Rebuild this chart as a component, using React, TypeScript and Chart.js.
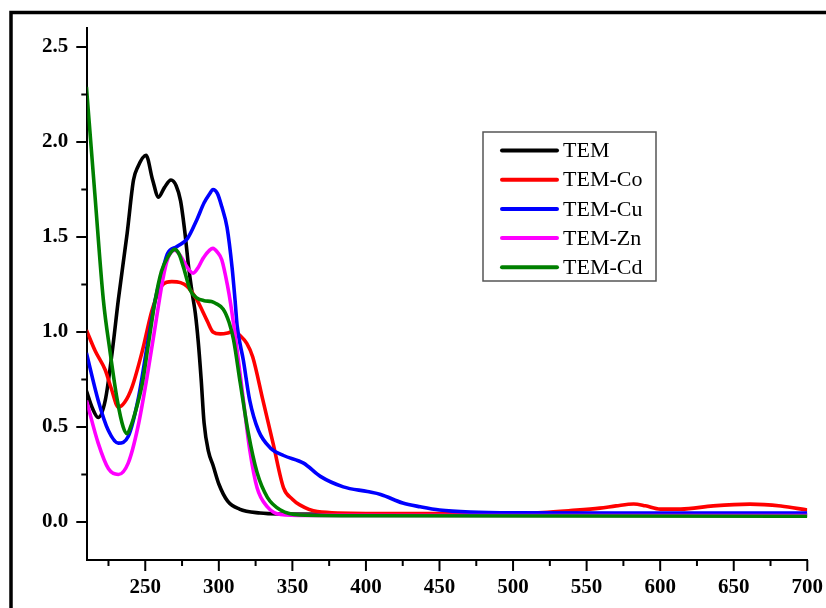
import React, { useEffect, useRef } from "react";
import { Chart, registerables } from "chart.js";

Chart.register(...registerables);

// ---- data (wavelength nm / absorbance) ----
const wlTEM = [210, 214, 218, 222.8, 227.6, 231.7, 237.7, 242, 245, 250.5, 255, 259, 263, 267.5, 271, 274, 277, 279.5, 282, 284, 286, 288, 290, 293, 296, 300, 306, 314, 328, 342, 400, 500, 600, 700];
const absTEM = [0.69, 0.6, 0.55, 0.64, 0.9, 1.17, 1.52, 1.8, 1.87, 1.93, 1.8, 1.71, 1.76, 1.8, 1.77, 1.69, 1.52, 1.34, 1.2, 1.1, 0.95, 0.75, 0.52, 0.37, 0.3, 0.2, 0.11, 0.068, 0.047, 0.042, 0.04, 0.038, 0.037, 0.036];

const wlCo = [210, 216, 222.8, 227, 231.7, 236, 241, 248, 254.8, 262, 268, 274, 278.5, 285, 292, 296, 301, 306, 310, 314.6, 319, 323, 330, 337, 344, 350, 355, 367, 400, 500, 520, 539, 559, 570, 582, 590, 600, 614, 636, 661, 682, 700];
const absCo = [1.01, 0.9, 0.8, 0.7, 0.605, 0.63, 0.71, 0.9, 1.12, 1.25, 1.265, 1.26, 1.24, 1.17, 1.06, 1.0, 0.99, 0.995, 1.005, 0.98, 0.94, 0.87, 0.64, 0.41, 0.18, 0.12, 0.09, 0.055, 0.045, 0.045, 0.05, 0.06, 0.073, 0.085, 0.095, 0.085, 0.068, 0.068, 0.085, 0.094, 0.084, 0.063];

const wlCu = [210, 218, 225, 231.7, 238.4, 245, 252, 256.8, 262, 265, 271.6, 278.5, 285, 290, 294, 296, 299, 302, 305.6, 309, 311, 312.5, 316.7, 321, 327, 335, 344, 357.6, 369, 384.6, 401, 410, 425, 437, 450, 471, 500, 600, 700];
const absCu = [0.89, 0.64, 0.48, 0.415, 0.45, 0.64, 0.96, 1.17, 1.33, 1.41, 1.45, 1.49, 1.59, 1.68, 1.73, 1.75, 1.73, 1.66, 1.55, 1.34, 1.17, 1.03, 0.85, 0.64, 0.48, 0.39, 0.35, 0.31, 0.24, 0.185, 0.16, 0.145, 0.1, 0.08, 0.063, 0.052, 0.048, 0.047, 0.047];

const wlZn = [210, 218, 225, 231.7, 238.4, 245, 252, 258.8, 262, 265, 270, 274, 278.5, 282.6, 286, 289.5, 296, 299, 302, 306, 308, 312.5, 316.7, 321, 326, 333, 342, 360, 500, 700];
const absZn = [0.64, 0.415, 0.28, 0.25, 0.31, 0.5, 0.8, 1.13, 1.28, 1.38, 1.43, 1.4, 1.34, 1.31, 1.34, 1.39, 1.44, 1.42, 1.38, 1.24, 1.15, 0.9, 0.64, 0.38, 0.18, 0.08, 0.04, 0.035, 0.034, 0.034];

const wlCd = [210, 215.7, 221.5, 226, 231, 235, 237.6, 240, 244, 248, 252, 256.8, 261, 265, 270, 273, 276, 280.6, 285, 290, 295, 298, 303, 307, 310, 314.6, 320, 326, 333, 342, 355, 400, 700];
const absCd = [2.29, 1.73, 1.17, 0.9, 0.64, 0.5, 0.465, 0.5, 0.6, 0.73, 0.93, 1.17, 1.32, 1.39, 1.435, 1.41, 1.34, 1.22, 1.18, 1.165, 1.16, 1.15, 1.12, 1.05, 0.96, 0.73, 0.47, 0.26, 0.13, 0.063, 0.037, 0.033, 0.03];

const seriesNames = ["TEM", "TEM-Co", "TEM-Cu", "TEM-Zn", "TEM-Cd"];
const seriesColors = ["#000000", "#ff0000", "#0000ff", "#ff00ff", "#008000"];

const xMajorTicks = [250, 300, 350, 400, 450, 500, 550, 600, 650, 700];
const xMinorTicks = [225, 275, 325, 375, 425, 475, 525, 575, 625, 675];
const yMajorTicks = [0, 0.5, 1.0, 1.5, 2.0, 2.5];
const yMinorTicks = [0.25, 0.75, 1.25, 1.75, 2.25];

const toPts = (wl: number[], ab: number[]) => wl.map((x, i) => ({ x, y: ab[i] }));

const decorPlugin = {
  id: "decor",
  afterDraw(chart: any) {
    const ctx = chart.ctx;
    const xs = chart.scales.x;
    const ys = chart.scales.y;
    const area = chart.chartArea;
    ctx.save();
    ctx.strokeStyle = "#000";
    ctx.lineWidth = 2;
    ctx.beginPath();
    yMajorTicks.forEach((v) => {
      const p = ys.getPixelForValue(v);
      ctx.moveTo(area.left - 11, p);
      ctx.lineTo(area.left, p);
    });
    yMinorTicks.forEach((v) => {
      const p = ys.getPixelForValue(v);
      ctx.moveTo(area.left - 6, p);
      ctx.lineTo(area.left, p);
    });
    xMajorTicks.forEach((v) => {
      const p = xs.getPixelForValue(v);
      ctx.moveTo(p, area.bottom);
      ctx.lineTo(p, area.bottom + 11);
    });
    xMinorTicks.forEach((v) => {
      const p = xs.getPixelForValue(v);
      ctx.moveTo(p, area.bottom);
      ctx.lineTo(p, area.bottom + 6);
    });
    ctx.stroke();

    // outer frame (cropped figure border)
    ctx.lineWidth = 3.5;
    ctx.beginPath();
    ctx.moveTo(11, 620);
    ctx.lineTo(11, 12.5);
    ctx.lineTo(840, 12.5);
    ctx.stroke();

    // legend box
    const bx = 483, by = 132, bw = 173, bh = 149;
    ctx.fillStyle = "#fff";
    ctx.fillRect(bx, by, bw, bh);
    ctx.lineWidth = 1.5;
    ctx.strokeStyle = "#555";
    ctx.strokeRect(bx, by, bw, bh);
    ctx.font = '22px "Liberation Serif"';
    ctx.textBaseline = "middle";
    ctx.textAlign = "left";
    seriesNames.forEach((name, i) => {
      const ry = 150.5 + i * 29.2;
      ctx.strokeStyle = seriesColors[i];
      ctx.lineWidth = 4;
      ctx.lineCap = "round";
      ctx.beginPath();
      ctx.moveTo(502, ry);
      ctx.lineTo(557, ry);
      ctx.stroke();
      ctx.fillStyle = "#000";
      ctx.fillText(name, 563, ry + 1);
    });
    ctx.restore();
  },
};

export default function App() {
  const ref = useRef<HTMLCanvasElement | null>(null);
  useEffect(() => {
    if (!ref.current) return;
    const all = [
      toPts(wlTEM, absTEM),
      toPts(wlCo, absCo),
      toPts(wlCu, absCu),
      toPts(wlZn, absZn),
      toPts(wlCd, absCd),
    ];
    const chart = new Chart(ref.current, {
      type: "line",
      data: {
        datasets: all.map((d, i) => ({
          label: seriesNames[i],
          data: d,
          borderColor: seriesColors[i],
          backgroundColor: seriesColors[i],
          borderWidth: 3.6,
          pointRadius: 0,
          cubicInterpolationMode: "monotone" as const,
          order: 5 - i,
        })),
      },
      options: {
        responsive: false,
        animation: false,
        devicePixelRatio: 1,
        layout: { padding: { left: 0, top: 28, right: 18.7, bottom: 0 } },
        plugins: { legend: { display: false }, tooltip: { enabled: false } },
        scales: {
          x: {
            type: "linear",
            min: 210.6,
            max: 700,
            grid: { display: false, drawTicks: false },
            border: { display: true, color: "#000", width: 2 },
            afterBuildTicks: (s: any) => {
              s.ticks = xMajorTicks.map((v) => ({ value: v }));
            },
            afterFit: (s: any) => {
              s.height = 48;
              s.paddingLeft = 0;
              s.paddingRight = 0;
            },
            ticks: {
              color: "#000",
              padding: 15,
              maxRotation: 0,
              autoSkip: false,
              font: { family: '"Liberation Serif"', size: 21, weight: "bold" },
              callback: (v: any) => String(v),
            },
          },
          y: {
            type: "linear",
            min: -0.2,
            max: 2.6,
            grid: { display: false, drawTicks: false },
            border: { display: true, color: "#000", width: 2 },
            afterBuildTicks: (s: any) => {
              s.ticks = yMajorTicks.map((v) => ({ value: v }));
            },
            afterFit: (s: any) => {
              s.width = 87.3;
              s.paddingTop = 0;
              s.paddingBottom = 0;
            },
            ticks: {
              color: "#000",
              padding: 19,
              autoSkip: false,
              font: { family: '"Liberation Serif"', size: 21, weight: "bold" },
              callback: (v: any) => Number(v).toFixed(1),
            },
          },
        },
      },
      plugins: [decorPlugin],
    });
    return () => chart.destroy();
  }, []);
  return (
    <div style={{ position: "absolute", left: 0, top: 0, width: 826, height: 608, background: "#fff", overflow: "hidden" }}>
      <canvas ref={ref} width={826} height={608} style={{ display: "block" }} />
    </div>
  );
}
